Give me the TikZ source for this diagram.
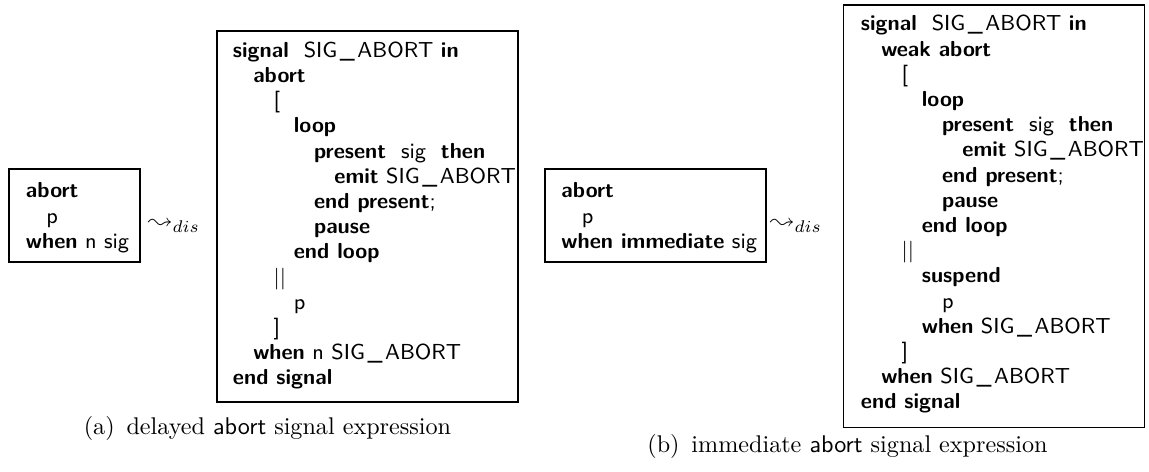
\documentclass[tikz,border=0pt]{standalone}
\usepackage{latexsym}
\usetikzlibrary{fit}
\newlength\indstep
\setlength\indstep{8.4pt}
\newcommand\kw[1]{\textbf{#1}}
\newcommand\lvl[1]{\hspace*{#1\indstep}}
\newcommand\us{\kern0.12em\_\kern0.12em}
\renewcommand\arraystretch{1}
\begin{document}
\begin{tikzpicture}[x=0.41408pt,y=-0.41408pt,
  frame/.style={draw, line width=0.45pt, inner sep=0pt},
  code/.style={inner sep=0pt, anchor=base west,
    font=\fontsize{9}{10.43}\sffamily},
  trans/.style={inner sep=0pt, anchor=base west},
  capt/.style={inner sep=0pt, anchor=base}]
\useasboundingbox (0,0) rectangle (1149,472);

% ---------- (a) delayed abort ----------
\node[frame, fit={(9,169) (140,262)}] (srcA) {};
\node[code] (srcAtext) at (25.5,198) {\begin{tabular}[t]{@{}l@{}}
\kw{abort}\\
\lvl1p\\
\kw{when} n sig
\end{tabular}};

\node[trans] (arrA) at (148,229) {$\leadsto_{dis}$};

\node[frame, fit={(217,31) (518,402)}] (dstA) {};
\node[code] (dstAtext) at (232.5,57.4) {\begin{tabular}[t]{@{}l@{}}
\kw{signal}\ \ SIG\us ABORT \kw{in}\\
\lvl1\kw{abort}\\
\lvl2[\\
\lvl3\kw{loop}\\
\lvl4\kw{present}\ \ sig\ \ \kw{then}\\
\lvl5\kw{emit} SIG\us ABORT\\
\lvl4\kw{end present};\\
\lvl4\kw{pause}\\
\lvl3\kw{end loop}\\
\lvl2$||$\\
\lvl3p\\
\lvl2]\\
\lvl1\kw{when} n SIG\us ABORT\\
\kw{end signal}
\end{tabular}};

\node[capt] (capA) at (267.5,435) {(a)\hspace{4.9pt}delayed \textsf{abort} signal expression};

% ---------- (b) immediate abort ----------
\node[frame, fit={(545,169) (766,262)}] (srcB) {};
\node[code] (srcBtext) at (561,198) {\begin{tabular}[t]{@{}l@{}}
\kw{abort}\\
\lvl1p\\
\kw{when immediate} sig
\end{tabular}};

\node[trans] (arrB) at (770,229) {$\leadsto_{dis}$};

\node[frame, fit={(843.5,5) (1144.3,427.5)}] (dstB) {};
\node[code] (dstBtext) at (860.5,31) {\begin{tabular}[t]{@{}l@{}}
\kw{signal}\ \ SIG\us ABORT \kw{in}\\
\lvl1\kw{weak abort}\\
\lvl2[\\
\lvl3\kw{loop}\\
\lvl4\kw{present}\ \ sig\ \ \kw{then}\\
\lvl5\kw{emit} SIG\us ABORT\\
\lvl4\kw{end present};\\
\lvl4\kw{pause}\\
\lvl3\kw{end loop}\\
\lvl2$||$\\
\lvl3\kw{suspend}\\
\lvl4p\\
\lvl3\kw{when} SIG\us ABORT\\
\lvl2]\\
\lvl1\kw{when} SIG\us ABORT\\
\kw{end signal}
\end{tabular}};

\node[capt] (capB) at (847.5,453) {(b)\hspace{4.9pt}immediate \textsf{abort} signal expression};
\end{tikzpicture}
\end{document}
